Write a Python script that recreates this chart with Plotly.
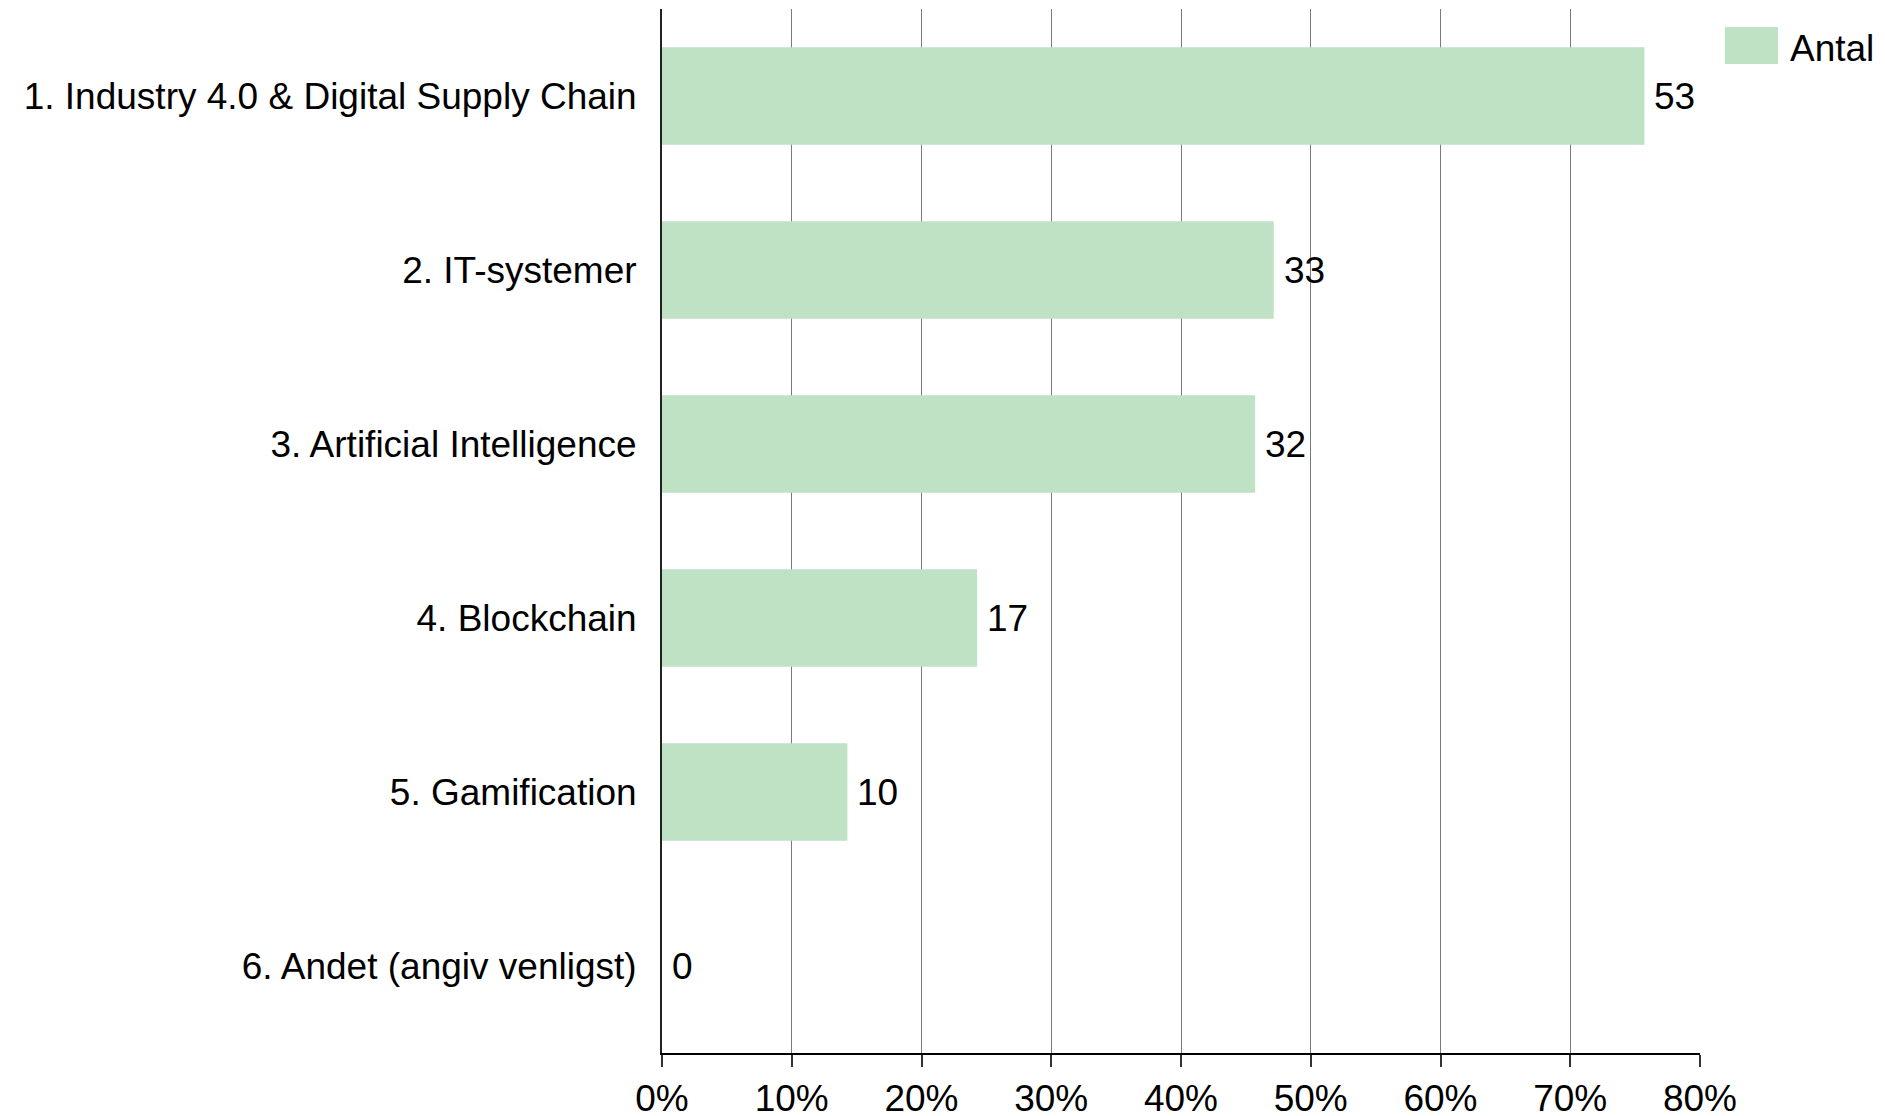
import plotly.graph_objects as go

categories = [
    "1. Industry 4.0 & Digital Supply Chain",
    "2. IT-systemer",
    "3. Artificial Intelligence",
    "4. Blockchain",
    "5. Gamification",
    "6. Andet (angiv venligst)",
]
counts = [53, 33, 32, 17, 10, 0]
respondents = 70
percent = [c / respondents * 100 for c in counts]
tick_vals = [0, 10, 20, 30, 40, 50, 60, 70, 80]
tick_text = ["0%", "10%", "20%", "30%", "40%", "50%", "60%", "70%", "80%"]
series_name = "Antal"

BAR = "#bfe1c4"
FONT = "Liberation Sans, Arial, sans-serif"
FS = 37

fig = go.Figure()
fig.add_trace(go.Bar(
    y=categories,
    x=percent,
    orientation="h",
    name=series_name,
    marker=dict(color=BAR, line=dict(width=0)),
    cliponaxis=False,
    showlegend=False,
))

# value labels just outside bar ends
for cat, p, c in zip(categories, percent, counts):
    fig.add_annotation(x=p, y=cat, xref="x", yref="y", text=str(c),
                       xanchor="left", yanchor="middle", xshift=8,
                       showarrow=False,
                       font=dict(family=FONT, size=FS, color="#000"))

fig.update_layout(
    width=1885, height=1116,
    margin=dict(l=654, r=193, t=1, b=71),
    paper_bgcolor="white", plot_bgcolor="white",
    bargap=0.44,
    font=dict(family=FONT, size=FS, color="#000"),
    xaxis=dict(
        range=[0, 80], tickvals=tick_vals, ticktext=tick_text,
        showgrid=True, gridcolor="#7a7a7a", gridwidth=1.3,
        showline=True, linecolor="#000", linewidth=2,
        ticks="outside", ticklen=12, tickwidth=2, tickcolor="#333",
        tickfont=dict(family=FONT, size=FS, color="#000"),
        zeroline=False, fixedrange=True,
    ),
    yaxis=dict(
        autorange="reversed",
        showline=True, linecolor="#222", linewidth=2,
        ticks="outside", ticklen=16, tickcolor="rgba(0,0,0,0)",
        tickfont=dict(family=FONT, size=FS, color="#000"),
        showgrid=False, fixedrange=True,
    ),
    showlegend=False,
)

# manual legend (larger swatch than Plotly's default)
fig.add_shape(type="rect", xref="paper", yref="paper",
              x0=1.024, x1=1.0751, y0=0.9473, y1=0.9828,
              fillcolor=BAR, line=dict(width=0))
fig.add_annotation(xref="paper", yref="paper", x=1.0848, y=0.962,
                   xanchor="left", yanchor="middle", text=series_name,
                   showarrow=False, font=dict(family=FONT, size=FS, color="#000"))

fig.write_html("out.html")
